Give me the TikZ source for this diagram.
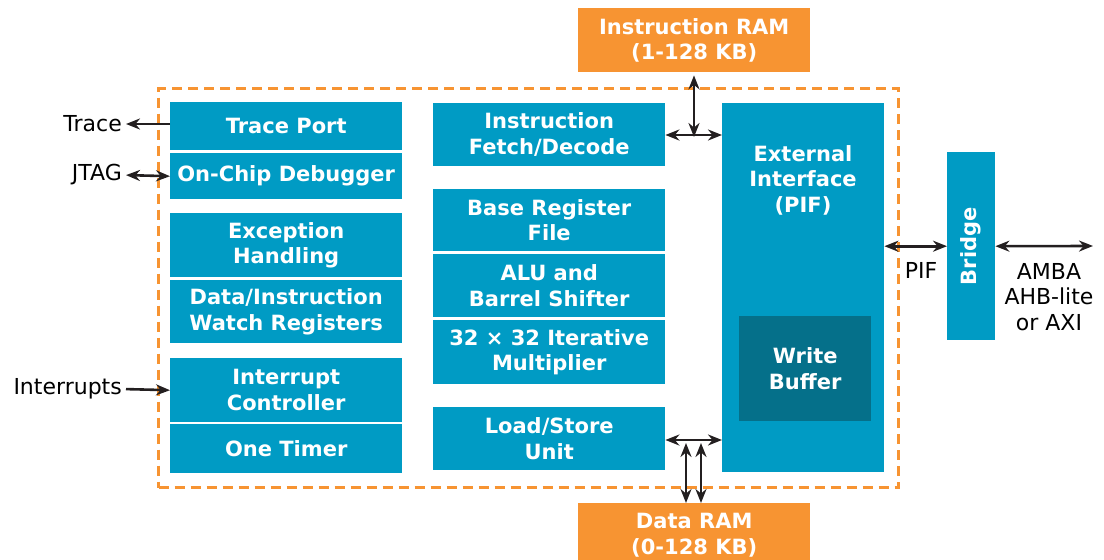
\documentclass[tikz,border=0pt]{standalone}
\usepackage{fontspec}
\setmainfont{DejaVu Sans}
\usetikzlibrary{arrows.meta}
\definecolor{cblue}{RGB}{0,155,196}
\definecolor{cdark}{RGB}{5,112,138}
\definecolor{corange}{RGB}{247,148,50}
\definecolor{cline}{RGB}{35,31,32}
\tikzset{
  blk/.style={fill=cblue, text=white, font=\fontsize{21}{25.5}\selectfont\bfseries, align=center, anchor=north west, inner sep=0pt},
  ram/.style={blk, fill=corange},
  lbl/.style={font=\fontsize{22}{25.5}\selectfont, text=black, align=center, inner sep=0pt},
  conn/.style={draw=cline, line width=2.6pt},
  bi/.style={conn, {Stealth[length=14pt,width=11pt]}-{Stealth[length=14pt,width=11pt]}},
  uni/.style={conn, -{Stealth[length=14pt,width=11pt]}},
}
\begin{document}
\begin{tikzpicture}[x=1pt,y=-1pt]
\useasboundingbox (0,0) rectangle (1104,560);
% dashed boundary
\node[draw=corange, dash pattern=on 10pt off 6pt, line width=3pt, anchor=north west, minimum width=740pt, minimum height=399pt, inner sep=0pt] (core) at (157,87) {};
% left column
\node[blk, minimum width=232pt, minimum height=48pt] (tp) at (170,102) {Trace Port};
\node[blk, minimum width=232pt, minimum height=46pt] (ocd) at (170,153) {On-Chip Debugger};
\node[blk, minimum width=232pt, minimum height=64pt] (exc) at (170,213) {Exception\\Handling};
\node[blk, minimum width=232pt, minimum height=63pt] (dw) at (170,280) {Data/Instruction\\Watch Registers};
\node[blk, minimum width=232pt, minimum height=64pt] (ic) at (170,358) {Interrupt\\Controller};
\node[blk, minimum width=232pt, minimum height=49pt] (ot) at (170,424) {One Timer};
% middle column
\node[blk, minimum width=232pt, minimum height=63pt] (ifd) at (433,103) {Instruction\\Fetch/Decode};
\node[blk, minimum width=232pt, minimum height=62pt] (brf) at (433,189) {Base Register\\File};
\node[blk, minimum width=232pt, minimum height=63pt] (alu) at (433,254) {ALU and\\Barrel Shifter};
\node[blk, minimum width=232pt, minimum height=64pt] (mul) at (433,320) {32 × 32 Iterative\\Multiplier};
\node[blk, minimum width=232pt, minimum height=63pt] (lsu) at (433,407) {Load/Store\\Unit};
% external interface
\node[blk, minimum width=162pt, minimum height=369pt] (ext) at (722,103) {};
\node[blk, anchor=north, fill=none] (extl) at (803,145) {External\\Interface\\(PIF)};
\node[blk, fill=cdark, minimum width=132pt, minimum height=105pt] (wb) at (739,316) {Write\\Buffer};
% bridge
\node[blk, minimum width=48pt, minimum height=188pt] (br) at (947,152) {};
\node[blk, anchor=center, fill=none, rotate=90] (brl) at (br.center) {Bridge};
% RAMs
\node[ram, minimum width=232pt, minimum height=64pt] (iram) at (578,8) {Instruction RAM\\(1-128 KB)};
\node[ram, minimum width=232pt, minimum height=64pt] (dram) at (578,503) {Data RAM\\(0-128 KB)};
% labels
\node[lbl, anchor=east] (trace) at (122,124) {Trace};
\node[lbl, anchor=east] (jtag) at (122,175) {JTAG};
\node[lbl, anchor=east] (intr) at (122,389) {Interrupts};
\node[lbl] (pif) at (921,270) {PIF};
\node[lbl] (amba) at (1049,297) {AMBA\\AHB-lite\\or AXI};
\coordinate (amb) at (1093,246);
\coordinate (ij) at (694,135);
\coordinate (d1) at (686,443);
\coordinate (d2) at (701,443);
% connectors
\draw[uni, shorten >=4pt] (170,124) -- (trace.east);
\draw[bi, shorten <=4pt] (jtag.east) -- (ocd.west);
\draw[uni, shorten <=4pt] (intr.east) -- (ic.west);
\draw[bi] (ifd.east |- ij) -- (ext.west |- ij);
\draw[bi, shorten <=3pt] (iram.south -| ij) -- ([yshift=-2pt]ij);
\draw[bi] (ext.east |- br.west) -- (br.west);
\draw[bi] (br.east) -- (amb);
\draw[bi] (lsu.east |- 0,440) -- (ext.west |- 0,440);
\draw[bi] (d1) -- (d1 |- dram.north);
\draw[bi] (d2) -- (d2 |- dram.north);
\end{tikzpicture}
\end{document}
